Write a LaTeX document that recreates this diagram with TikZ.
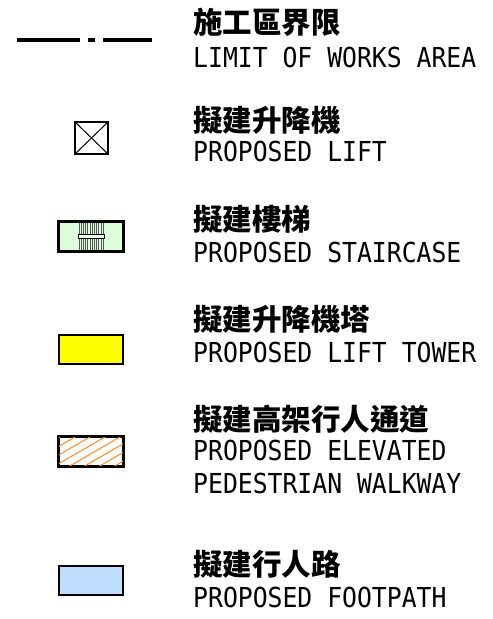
\documentclass[tikz,border=0pt]{standalone}
\usepackage{fontspec}
\newfontfamily\cjk{Noto Sans CJK TC}
\newfontfamily\eng[FakeStretch=0.9]{DejaVu Sans Mono}
\definecolor{stairgreen}{RGB}{220,252,220}
\definecolor{lifttower}{RGB}{255,255,0}
\definecolor{walkorange}{RGB}{255,140,20}
\definecolor{footblue}{RGB}{191,222,255}
\definecolor{stairline}{RGB}{80,90,80}
\begin{document}
\begin{tikzpicture}[x=1pt,y=-1pt,
  cn/.style={anchor=base west,inner sep=0pt,font=\cjk\bfseries\fontsize{29.5}{33}\selectfont},
  en/.style={anchor=base west,inner sep=0pt,font=\eng\fontsize{27.5}{33}\selectfont},
  symbox/.style={draw=black,line width=2pt,minimum width=64pt,minimum height=29pt,inner sep=0pt},
  liftbox/.style={draw=black,line width=1.5pt,minimum width=33pt,minimum height=32pt,inner sep=0pt},
  limitline/.style={line width=3.2pt}]
\useasboundingbox (0,0) rectangle (493,619);
% row 1: limit of works
\coordinate (la) at (17,40);
\coordinate (lb) at (80,40);
\coordinate (lc) at (88,40);
\coordinate (ld) at (95,40);
\coordinate (le) at (103,40);
\coordinate (lf) at (152,40);
\draw[limitline] (la) -- (lb) (lc) -- (ld) (le) -- (lf);
\node[cn] (c1) at (193,33) {施工區界限};
\node[en] (e1) at (193,67) {LIMIT OF WORKS AREA};
% row 2: lift
\node[liftbox] (lift) at (91.5,138) {};
\draw[line width=1pt] (lift.north west) -- (lift.south east) (lift.north east) -- (lift.south west);
\node[cn] (c2) at (193,131) {擬建升降機};
\node[en] (e2) at (193,161) {PROPOSED LIFT};
% row 3: staircase
\node[symbox,fill=stairgreen] (stair) at (91,236.5) {};
\foreach \i in {0,...,11} {
  \draw[stairline,line width=0.9pt] (79+2.2*\i,223) -- (79+2.2*\i,250);
}
\draw[black,line width=1pt,fill=stairgreen!50!white] (78,234.5) rectangle (104,238.5);
\draw[line width=2pt] (stair.north west) rectangle (stair.south east);
\node[cn] (c3) at (193,230) {擬建樓梯};
\node[en] (e3) at (193,262) {PROPOSED STAIRCASE};
% row 4: lift tower
\node[symbox,fill=lifttower] (tower) at (91,349) {};
\node[cn] (c4) at (193,330) {擬建升降機塔};
\node[en] (e4) at (193,362) {PROPOSED LIFT TOWER};
% row 5: elevated walkway
\node[symbox] (walk) at (91,451.5) {};
\begin{scope}
\clip (walk.north west) rectangle (walk.south east);
\foreach \k in {-1,...,7} {
  \draw[walkorange,line width=1pt] (60+15*\k-70,437+40.4) -- (60+15*\k+10,437-5.8);
}
\end{scope}
\draw[line width=2pt] (walk.north west) rectangle (walk.south east);
\node[cn] (c5) at (193,430) {擬建高架行人通道};
\node[en] (e5a) at (193,460) {PROPOSED ELEVATED};
\node[en] (e5b) at (193,493) {PEDESTRIAN WALKWAY};
% row 6: footpath
\node[symbox,fill=footblue] (foot) at (91,580.5) {};
\node[cn] (c6) at (193,575) {擬建行人路};
\node[en] (e6) at (193,607) {PROPOSED FOOTPATH};
\end{tikzpicture}
\end{document}
